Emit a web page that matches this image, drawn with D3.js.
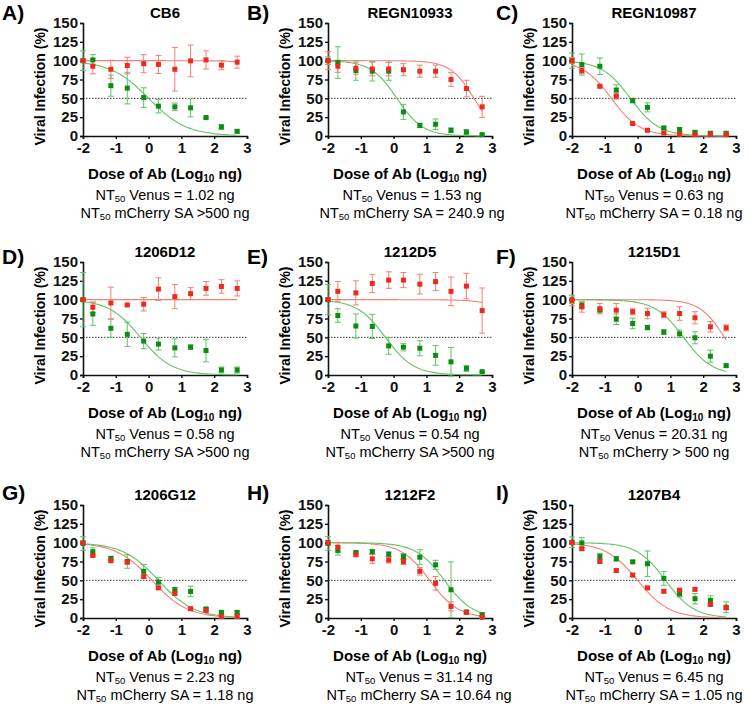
<!DOCTYPE html>
<html>
<head>
<meta charset="utf-8">
<script src="https://cdn.jsdelivr.net/npm/d3@7"></script>
<style>
  html, body { margin: 0; padding: 0; background: #fff; }
  svg { display: block; }
  text { font-family: "Liberation Sans", Arial, sans-serif; }
</style>
</head>
<body>
<svg id="chart" width="750" height="708"></svg>
<script>
// ---------------- DATA ----------------
const doses = [-2, -1.7, -1.15, -0.65, -0.15, 0.3, 0.8, 1.28, 1.75, 2.22, 2.7];
const panelLetters = ["A)", "B)", "C)", "D)", "E)", "F)", "G)", "H)", "I)"];
const panelTitles = ["CB6", "REGN10933", "REGN10987", "1206D12", "1212D5", "1215D1", "1206G12", "1212F2", "1207B4"];
const xTicks = [-2, -1, 0, 1, 2, 3];
const yTicks = [0, 25, 50, 75, 100, 125, 150];

// Venus (green) means and error bars
const venusMean = [
  [100, 101, 66.8, 63.6, 51, 39.6, 38.7, 37.4, 24.5, 12, 6.2],
  [100, 97.5, 87, 86, 86, 32, 14, 15.6, 7.6, 5.3, 1.8],
  [100, 94.8, 92.6, 61, 47, 38, 10.7, 8.5, 4.9, 3.6, 3.6],
  [100, 81, 62, 54, 45, 41, 36, 37, 32.5, 6.6, 6.6],
  [100, 79, 65, 64.5, 38.6, 37, 35.5, 26, 17.5, 8.8, 4.4],
  [100, 92.6, 86, 74, 68.4, 63, 57, 54.7, 49.4, 25, 12.4],
  [99, 88, 79, 75, 62, 47.6, 37.5, 35.3, 12, 7.5, 7.5],
  [99, 89.6, 87, 88, 84.7, 81.6, 80.7, 70.6, 37.5, 8, 4.4],
  [100.6, 99.7, 81.7, 78.6, 74.5, 72, 52.5, 32, 25.6, 23.4, 14.4]
];
const venusErr = [
  [13, 7, 14, 21, 13, 9, 5, 12, 1, 3, 2],
  [5, 21, 13, 13, 12, 10, 3, 7, 3, 3, 1],
  [10, 14, 11, 7, 3, 6, 2, 3, 2, 2, 2],
  [36, 15, 12, 16, 10, 8, 12, 3, 15, 4, 4],
  [20, 9, 16, 16, 11, 5, 10, 13, 19, 4, 1],
  [5, 4, 2, 7, 7, 3, 3, 5, 8, 8, 2],
  [9, 5, 3, 9, 9, 6, 3, 7, 2, 2, 2],
  [9, 6, 2, 3, 3, 4, 10, 6, 37, 2, 2],
  [7, 7, 4, 3, 2, 17, 9, 4, 7, 6, 7]
];
// mCherry SA (red) means and error bars
const cherryMean = [
  [100, 92.6, 88.6, 93.5, 96, 95, 88.6, 99.7, 101, 94, 98],
  [100, 92.6, 90, 89, 89, 88, 86, 86, 75, 63, 38.7],
  [100, 86.8, 66, 53, 16.5, 7.6, 4, 2.2, 1.8, 1.8, 1.8],
  [100, 90, 95.6, 93, 94, 114, 104, 108, 115, 117.5, 115],
  [100, 111, 109, 121.5, 126, 126, 120.6, 124, 111, 118, 85.5],
  [99, 90.4, 88, 86, 84, 81.6, 80, 81.6, 76, 64, 62.6],
  [100, 83, 76, 74, 55, 40, 32.6, 12.4, 10, 2.2, 2.2],
  [100, 94, 84, 78.5, 77, 75, 62, 46, 15.4, 7.5, 1],
  [100, 92, 75, 63, 57, 40, 35.5, 37, 38, 18, 13.5]
];
const cherryErr = [
  [0, 10, 12, 11, 12, 12, 29, 21, 12, 6, 8],
  [12, 8, 8, 9, 9, 8, 8, 8, 9, 11, 14],
  [4, 4, 1, 4, 1, 1, 1, 1, 1, 1, 1],
  [2, 7, 21, 1, 9, 15, 16, 8, 9, 9, 10],
  [2, 13, 16, 12, 11, 10, 13, 12, 19, 17, 30],
  [7, 7, 7, 9, 4, 7, 4, 9, 8, 7, 4],
  [2, 2, 2, 2, 2, 2, 2, 2, 2, 2, 2],
  [3, 6, 2, 6, 4, 4, 5, 9, 6, 2, 1],
  [2, 2, 2, 2, 2, 2, 2, 2, 2, 2, 2]
];
// Fitted dose-response curves: log10 NT50 (midpoint) and Hill slope
const venusFitMid = [0.0, 0.1, -0.22, -0.25, -0.25, 1.4, 0.3, 1.55, 0.85];
const venusFitSlope = [0.75, 1.1, 1.0, 0.9, 1.0, 1.0, 0.8, 1.0, 1.0];
const cherryFitMid = [4.5, 2.45, -0.8, 10, 4.1, 2.65, 0.1, 1.1, 0.0];
const cherryFitSlope = [1.0, 1.2, 1.0, 1.0, 1.0, 1.15, 0.8, 1.0, 0.9];
// NT50 texts
const nt50Venus = ["1.02 ng", "1.53 ng", "0.63 ng", "0.58 ng", "0.54 ng", "20.31 ng", "2.23 ng", "31.14 ng", "6.45 ng"];
const nt50Cherry = ["mCherry SA >500 ng", "mCherry SA = 240.9 ng", "mCherry SA = 0.18 ng",
                    "mCherry SA >500 ng", "mCherry SA >500 ng", "mCherry > 500 ng",
                    "mCherry SA = 1.18 ng", "mCherry SA = 10.64 ng", "mCherry SA = 1.05 ng"];

// ---------------- LAYOUT ----------------
const colX = [83, 328, 572];
const rowY = [23, 262, 505];
const plotW = 164, plotH = 113;
const letterX = [2, 247, 496];
const letterY = [20, 264, 500];
const textDx = [0, 2, 0, 0, 0, 0, 0, 9, 0];

const GREEN = "#0b8c12", GREEN_L = "#62c266";
const RED = "#ec2a1e", RED_L = "#f48074";

const svg = d3.select("#chart");

function hill(x, mid, slope) {
  return 100 / (1 + Math.pow(10, (x - mid) * slope));
}

panelTitles.forEach((title, i) => {
  const col = i % 3, row = Math.floor(i / 3);
  const x0 = colX[col], y0 = rowY[row];
  const g = svg.append("g").attr("transform", `translate(${x0},${y0})`);
  const x = d3.scaleLinear().domain([-2, 3]).range([0, plotW]);
  const y = d3.scaleLinear().domain([0, 150]).range([plotH, 0]);

  // panel letter
  svg.append("text").attr("x", letterX[col]).attr("y", letterY[row])
    .attr("font-size", 21).attr("font-weight", "bold").text(panelLetters[i]);

  // title
  g.append("text").attr("x", plotW / 2).attr("y", -5).attr("text-anchor", "middle")
    .attr("font-size", 15).attr("font-weight", "bold").text(title);

  // dotted 50% line
  g.append("line").attr("x1", x(-2)).attr("x2", x(3)).attr("y1", y(50)).attr("y2", y(50))
    .attr("stroke", "#222").attr("stroke-width", 0.9).attr("stroke-dasharray", "1.5,1.5");

  // axes
  const yAxis = g.append("g").call(d3.axisLeft(y).tickValues(yTicks).tickSize(3).tickPadding(2));
  const xAxis = g.append("g").attr("transform", `translate(0,${plotH})`)
    .call(d3.axisBottom(x).tickValues(xTicks).tickSize(3).tickPadding(3).tickFormat(d3.format("d")));
  [yAxis, xAxis].forEach(a => {
    a.select(".domain").attr("stroke", "#111").attr("stroke-width", 1.6);
    a.selectAll(".tick line").attr("stroke", "#111").attr("stroke-width", 1.4);
    a.selectAll(".tick text").attr("font-size", 15).attr("font-weight", "bold")
      .attr("fill", "#111").attr("font-family", "Liberation Sans, Arial, sans-serif");
  });
  xAxis.selectAll(".tick text").text(d => d < 0 ? "-" + Math.abs(d) : d);

  // y label
  g.append("text").attr("transform", `translate(-38,${plotH / 2 + 7}) rotate(-90)`)
    .attr("text-anchor", "middle").attr("font-size", 14).attr("font-weight", "bold")
    .text("Viral Infection (%)");

  // x label
  const xl = g.append("text").attr("x", plotW / 2).attr("y", plotH + 43).attr("text-anchor", "middle")
    .attr("font-size", 15).attr("font-weight", "bold");
  xl.append("tspan").text("Dose of Ab (Log");
  xl.append("tspan").attr("font-size", 10).attr("dy", 3).text("10");
  xl.append("tspan").attr("dy", -3).text(" ng)");

  // NT50 texts
  const cx = plotW / 2 + textDx[i];
  const t1 = g.append("text").attr("x", cx).attr("y", plotH + 64).attr("text-anchor", "middle").attr("font-size", 14.5);
  t1.append("tspan").text("NT");
  t1.append("tspan").attr("font-size", 9.5).attr("dy", 2).text("50");
  t1.append("tspan").attr("dy", -2).text(" Venus = " + nt50Venus[i]);
  const t2 = g.append("text").attr("x", cx).attr("y", plotH + 81.5).attr("text-anchor", "middle").attr("font-size", 14.5);
  t2.append("tspan").text("NT");
  t2.append("tspan").attr("font-size", 9.5).attr("dy", 2).text("50");
  t2.append("tspan").attr("dy", -2).text(" " + nt50Cherry[i]);

  // fit curves
  const xs = d3.range(0, 101).map(k => -2 + k * 4.7 / 100);
  const line = d3.line().x(d => x(d[0])).y(d => y(d[1])).curve(d3.curveLinear);
  g.append("path").datum(xs.map(v => [v, hill(v, cherryFitMid[i], cherryFitSlope[i])]))
    .attr("d", line).attr("fill", "none").attr("stroke", RED_L).attr("stroke-width", 1.1);
  g.append("path").datum(xs.map(v => [v, hill(v, venusFitMid[i], venusFitSlope[i])]))
    .attr("d", line).attr("fill", "none").attr("stroke", GREEN_L).attr("stroke-width", 1.1);

  // error bars + points
  const series = [
    { mean: venusMean[i], err: venusErr[i], c: GREEN, cl: GREEN_L },
    { mean: cherryMean[i], err: cherryErr[i], c: RED, cl: RED_L }
  ];
  series.forEach(s => {
    const eg = g.append("g");
    doses.forEach((dx, k) => {
      const m = s.mean[k], e = s.err[k];
      if (e <= 0) return;
      const px = x(dx);
      eg.append("line").attr("x1", px).attr("x2", px).attr("y1", y(m - e)).attr("y2", y(m + e))
        .attr("stroke", s.cl).attr("stroke-width", 1);
      [m - e, m + e].forEach(v => {
        eg.append("line").attr("x1", px - 3).attr("x2", px + 3).attr("y1", y(v)).attr("y2", y(v))
          .attr("stroke", s.cl).attr("stroke-width", 1);
      });
    });
  });
  series.forEach(s => {
    g.append("g").selectAll("rect").data(doses).join("rect")
      .attr("x", d => x(d) - 2.5).attr("y", (d, k) => y(s.mean[k]) - 2.5)
      .attr("width", 5).attr("height", 5).attr("fill", s.c);
  });
});
</script>
</body>
</html>
